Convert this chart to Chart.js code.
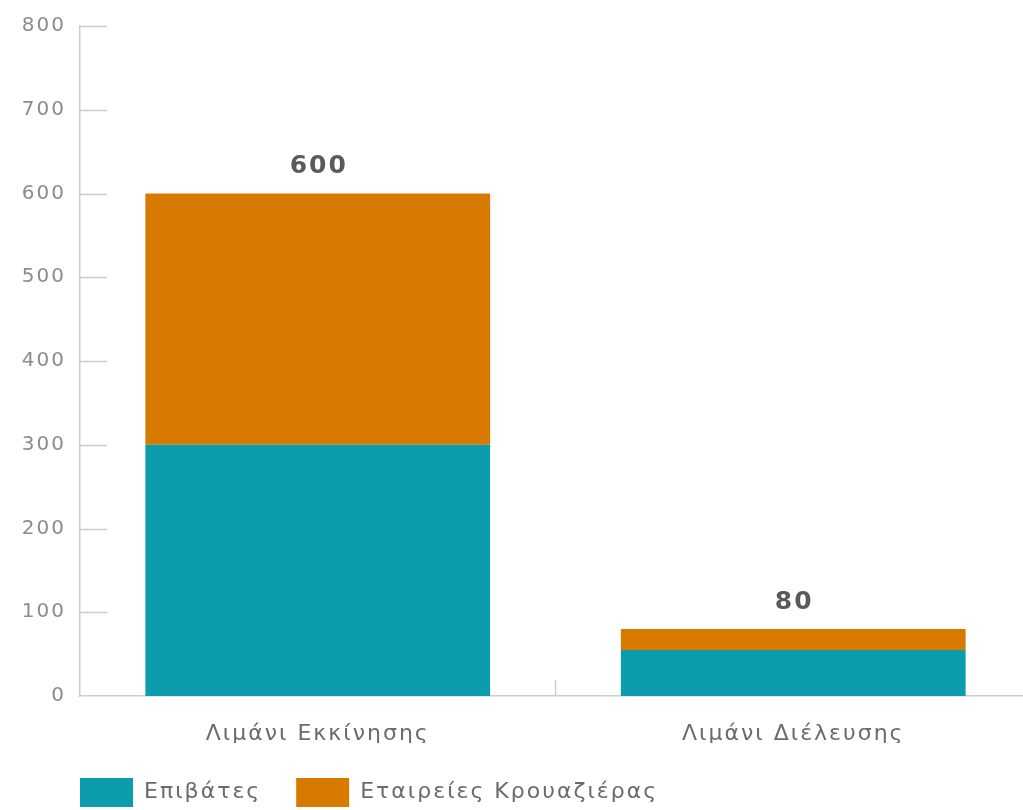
<!DOCTYPE html>
<html lang="el">
<head>
<meta charset="utf-8">
<title>Λιμάνια κρουαζιέρας</title>
<script src="https://cdn.jsdelivr.net/npm/chart.js@4.4.1/dist/chart.umd.min.js"></script>
<style>
  html, body { margin: 0; padding: 0; background: #fff; }
  #wrap { width: 1023px; height: 810px; }
</style>
</head>
<body>
<div id="wrap"><canvas id="ports-chart" width="1023" height="810"></canvas></div>
<script>
// ── data ──
const categories = ['Λιμάνι Εκκίνησης', 'Λιμάνι Διέλευσης'];
const seriesNames = ['Επιβάτες', 'Εταιρείες Κρουαζιέρας'];
const passengers = [300, 55];
const cruiseLines = [300, 25];
const yTicks = [0, 100, 200, 300, 400, 500, 600, 700, 800];

const TEAL = '#0b9dac';
const ORANGE = '#d97a00';
const AXIS = '#cccccc';
const FONT = "'DejaVu Sans', sans-serif";
const SPACING = '2px';

// wider tracking for the labels (setting the canvas size resets it, so set it again)
const tracking = {
    id: 'tracking',
    beforeUpdate(chart) { chart.ctx.letterSpacing = SPACING; },
    beforeDraw(chart) { chart.ctx.letterSpacing = SPACING; }
};

// legend starts under the y axis line; plot runs a little past the right edge
const placeBoxes = {
    id: 'placeBoxes',
    afterLayout(chart) {
        const lg = chart.legend;
        lg.left += 45;
        lg.right += 45;
        const x = chart.scales.x;
        x.right += 8;
        x.width += 8;
        x.configure();
    }
};

// short tick marks drawn inside the plot, plus the separator between categories
const innerTicks = {
    id: 'innerTicks',
    afterDraw(chart) {
        const { ctx, chartArea, scales: { x, y } } = chart;
        ctx.save();
        ctx.strokeStyle = AXIS;
        ctx.lineWidth = 1.5;
        yTicks.forEach(v => {
            if (v === 0) return;
            const py = Math.round(y.getPixelForValue(v)) + 0.5;
            ctx.beginPath();
            ctx.moveTo(chartArea.left, py);
            ctx.lineTo(chartArea.left + 27, py);
            ctx.stroke();
        });
        const mid = (x.getPixelForValue(0) + x.getPixelForValue(1)) / 2;
        ctx.beginPath();
        ctx.moveTo(mid, chartArea.bottom);
        ctx.lineTo(mid, chartArea.bottom - 16);
        ctx.stroke();
        ctx.restore();
    }
};

// stack totals above each bar
const totalLabels = {
    id: 'totalLabels',
    afterDatasetsDraw(chart) {
        const { ctx, scales: { x, y } } = chart;
        ctx.save();
        ctx.font = `bold 25px ${FONT}`;
        ctx.fillStyle = '#5a5a5a';
        ctx.textAlign = 'center';
        ctx.textBaseline = 'middle';
        categories.forEach((c, i) => {
            const total = passengers[i] + cruiseLines[i];
            ctx.fillText(String(total), x.getPixelForValue(i) + 1, y.getPixelForValue(total) - 27);
        });
        ctx.restore();
    }
};

new Chart(document.getElementById('ports-chart'), {
    type: 'bar',
    data: {
        labels: categories,
        datasets: [
            { label: seriesNames[0], data: passengers, backgroundColor: TEAL },
            { label: seriesNames[1], data: cruiseLines, backgroundColor: ORANGE }
        ]
    },
    options: {
        responsive: false,
        animation: false,
        categoryPercentage: 1,
        barPercentage: 0.725,
        layout: { padding: { top: 25, right: 0, bottom: -7, left: 0 } },
        plugins: {
            tooltip: { enabled: false },
            legend: {
                position: 'bottom',
                align: 'start',
                labels: {
                    boxWidth: 53,
                    boxHeight: 29,
                    padding: 35,
                    color: '#6b6b6b',
                    font: { family: FONT, size: 22 }
                }
            }
        },
        scales: {
            x: {
                stacked: true,
                afterFit(scale) { scale.height = 47; },
                grid: { display: false },
                border: { color: AXIS, width: 1.5 },
                ticks: { color: '#6b6b6b', padding: 17, font: { family: FONT, size: 22 } }
            },
            y: {
                stacked: true,
                min: 0,
                max: 800,
                afterFit(scale) { scale.width = 80; },
                afterBuildTicks(scale) { scale.ticks = yTicks.map(v => ({ value: v })); },
                grid: { display: false, drawTicks: false },
                border: { color: AXIS, width: 1.5 },
                ticks: { color: '#8c8c8c', padding: 14, font: { family: FONT, size: 20 } }
            }
        }
    },
    plugins: [tracking, placeBoxes, innerTicks, totalLabels]
});
</script>
</body>
</html>
